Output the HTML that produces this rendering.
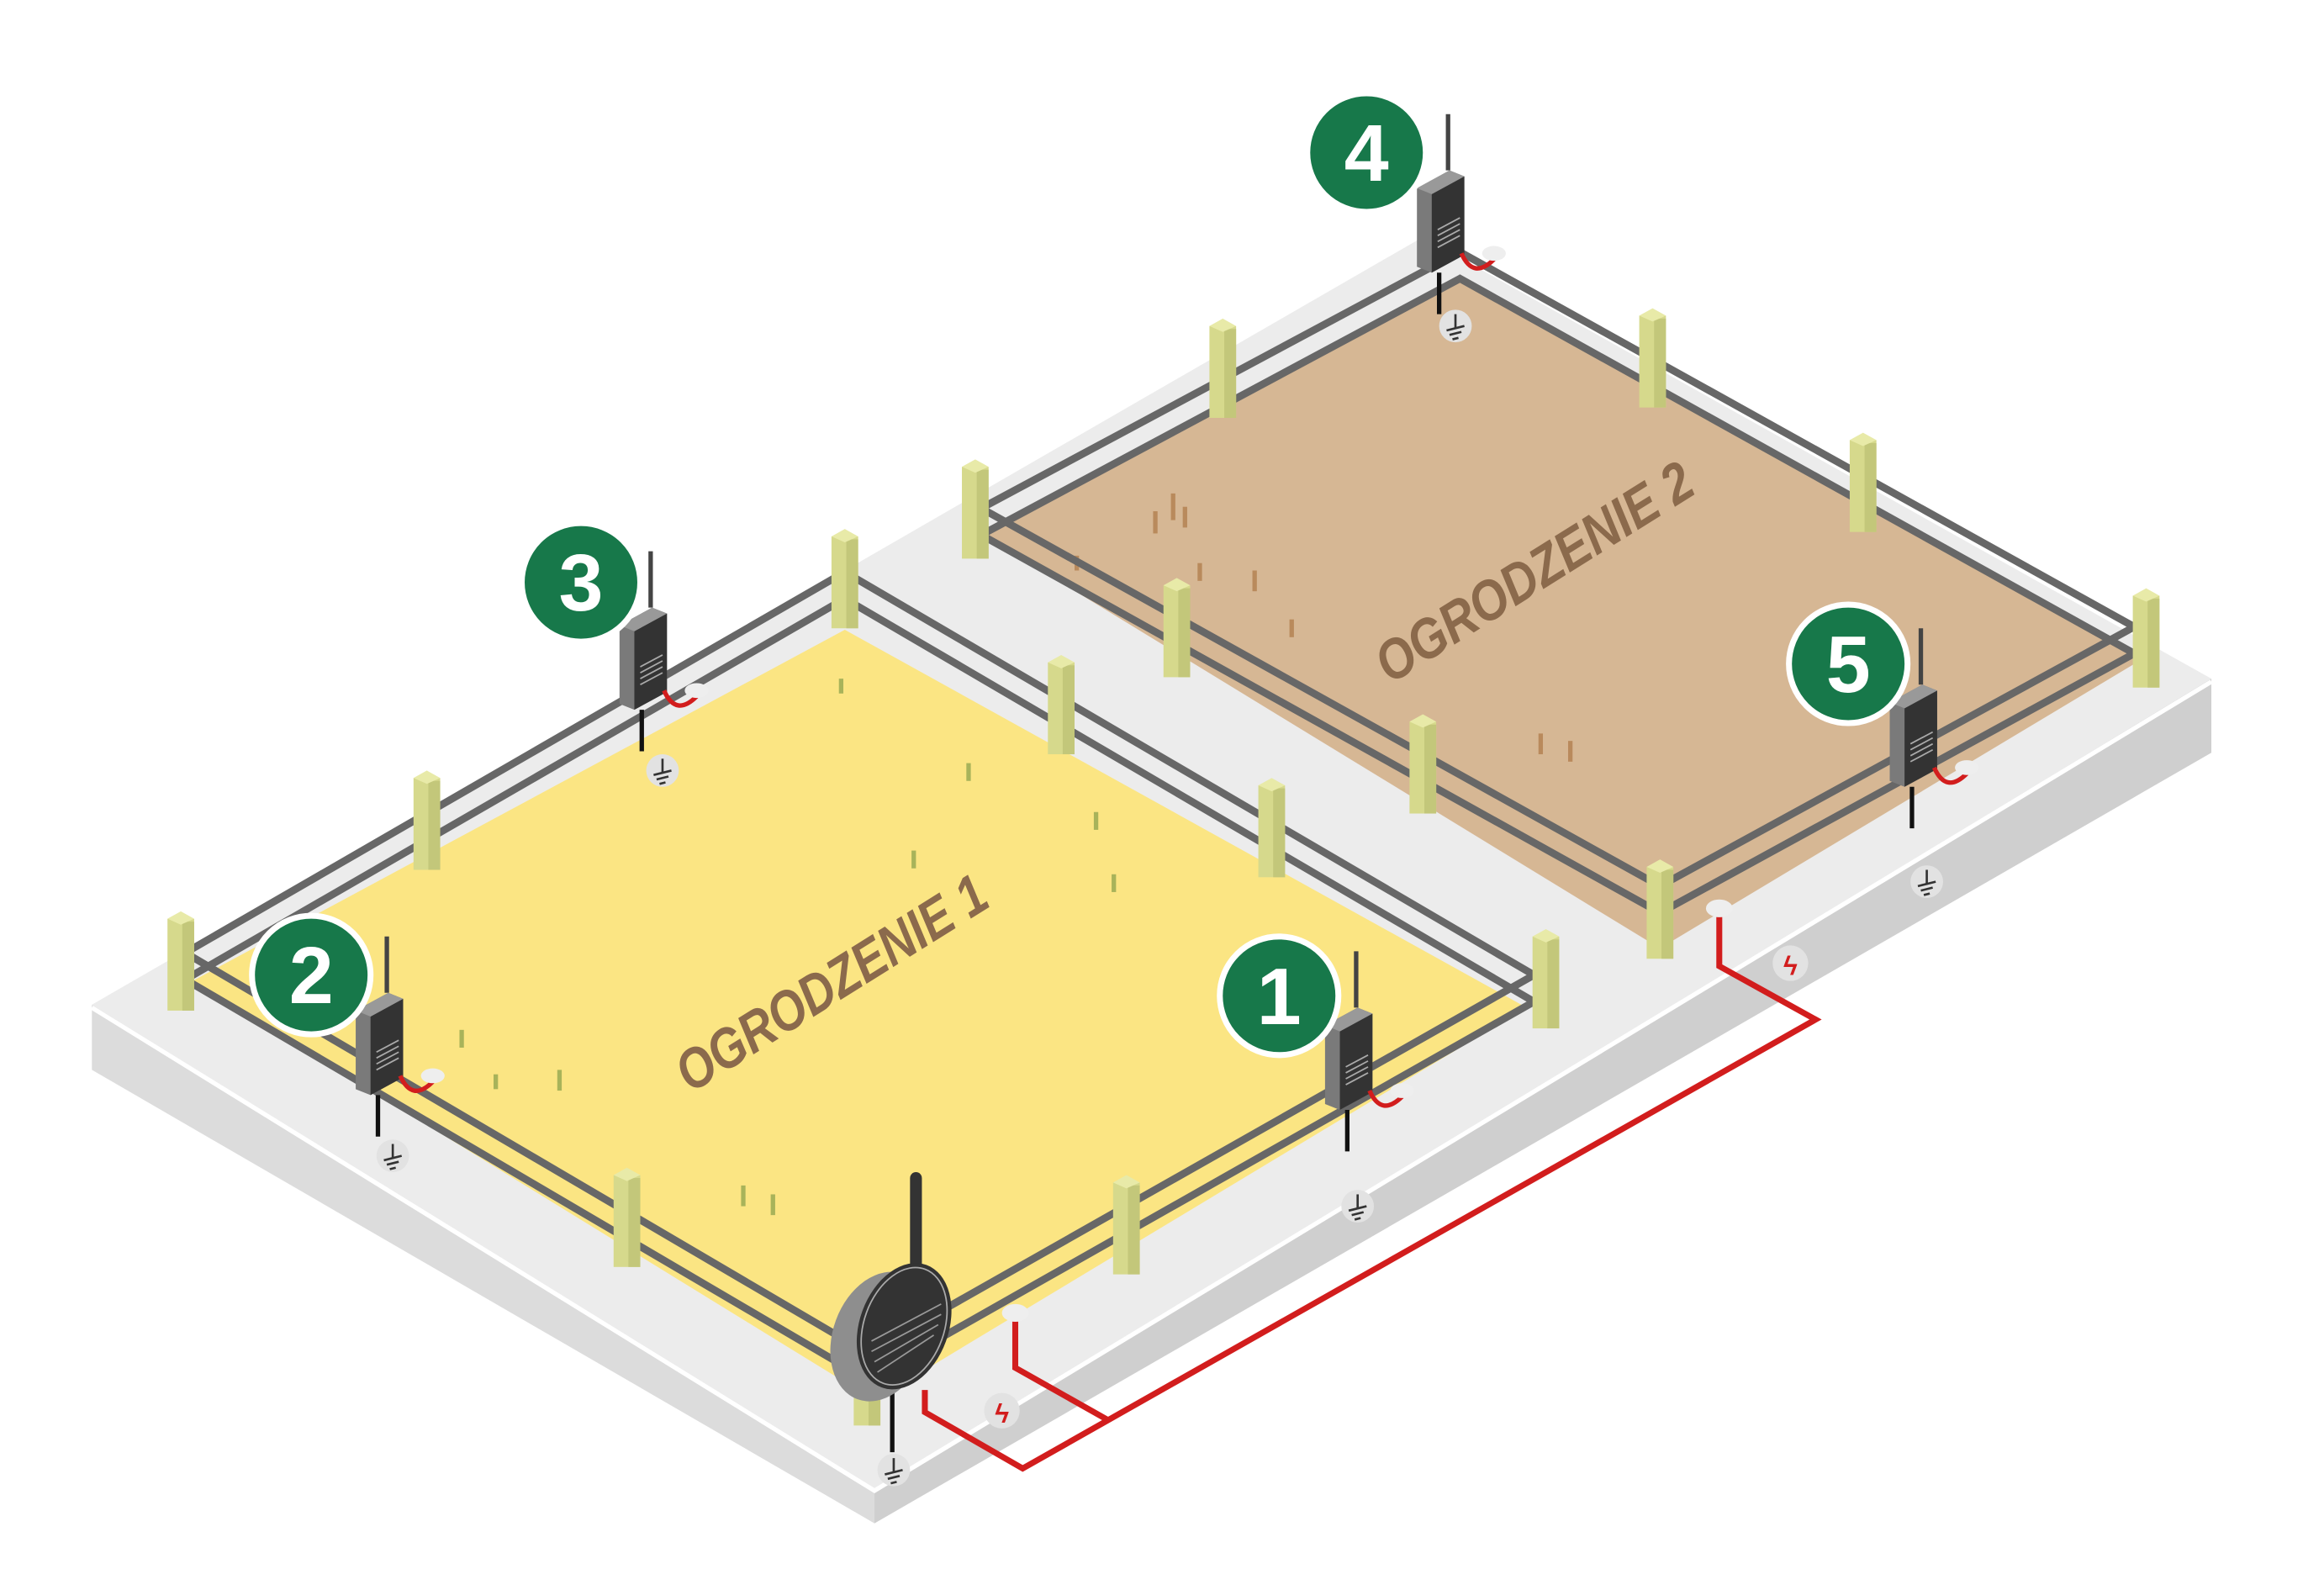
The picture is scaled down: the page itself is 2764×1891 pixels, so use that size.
<!DOCTYPE html>
<html><head><meta charset="utf-8"><style>html,body{margin:0;padding:0;background:#fff}svg{display:block}</style></head>
<body>
<svg width="2764" height="1891" viewBox="0 0 1568 1073" preserveAspectRatio="none" xmlns="http://www.w3.org/2000/svg">
<defs>
<g id="post"><rect x="-9" y="0" width="18" height="62" fill="#d6d98c"/><rect x="1" y="2" width="8" height="60" fill="#c3c77a"/><polygon points="-9,0 0,-5 9,0 0,4" fill="#e8eaa8"/></g>
<g id="dev">
<line x1="9" y1="-50" x2="9" y2="-12" stroke="#444" stroke-width="3"/>
<polygon points="-12,0 10,-12 20,-8 20,45 -2,57 -12,53" fill="#7a7a7a"/>
<polygon points="-2,4 20,-8 20,45 -2,57" fill="#333"/>
<polygon points="-12,0 10,-12 20,-8 -2,4" fill="#999"/>
<g stroke="#aaa" stroke-width="1"><line x1="2" y1="28" x2="17" y2="20"/><line x1="2" y1="32" x2="17" y2="24"/><line x1="2" y1="36" x2="17" y2="28"/><line x1="2" y1="40" x2="17" y2="32"/></g>
<line x1="3" y1="57" x2="3" y2="85" stroke="#111" stroke-width="3"/>
<path d="M18 44 Q26 62 40 48" fill="none" stroke="#d21d1d" stroke-width="3"/>
<ellipse cx="40" cy="44" rx="8" ry="5" fill="#eee"/>
</g>
<g id="gnd"><circle r="11" fill="#e2e2e2"/><g stroke="#333" stroke-width="1.5"><line x1="0" y1="-8" x2="0" y2="2"/><line x1="-6" y1="3" x2="6" y2="0"/><line x1="-4" y1="6" x2="4" y2="4"/><line x1="-2" y1="9" x2="2" y2="8"/></g></g>
</defs>
<polygon points="62,678 590,1005 590,1028 62,722" fill="#dcdcdc"/>
<polygon points="590,1005 1492,458 1492,508 590,1028" fill="#cfcfcf"/>
<polygon points="62,678 960,160 1492,458 590,1005" fill="#ececec"/>
<polyline points="62,680 590,1006 1492,460" fill="none" stroke="#fff" stroke-width="3"/>
<polygon points="130,662 570,425 1030,680 590,945" fill="#fbe583"/>
<polygon points="665,362 985,190 1445,445 1120,640" fill="#d6b794"/>
<g fill="#a8b35a"><rect x="652" y="515" width="3" height="12"/><rect x="738" y="548" width="3" height="12"/><rect x="615" y="574" width="3" height="12"/><rect x="750" y="590" width="3" height="12"/><rect x="566" y="458" width="3" height="10"/><rect x="310" y="695" width="3" height="12"/><rect x="333" y="725" width="3" height="10"/><rect x="376" y="722" width="3" height="14"/><rect x="500" y="800" width="3" height="14"/><rect x="520" y="806" width="3" height="14"/></g>
<g fill="#b98a5c"><rect x="778" y="345" width="3" height="15"/><rect x="790" y="333" width="3" height="18"/><rect x="798" y="342" width="3" height="14"/><rect x="845" y="385" width="3" height="14"/><rect x="808" y="380" width="3" height="12"/><rect x="870" y="418" width="3" height="12"/><rect x="1038" y="495" width="3" height="14"/><rect x="1058" y="500" width="3" height="14"/><rect x="725" y="375" width="3" height="10"/></g>
<g fill="none" stroke="#676767" stroke-width="5">
<polygon points="985,170 662,343 1120,598 1440,423"/>
<polygon points="985,188 662,361 1120,616 1440,441"/>
</g>
<g><use href="#post" x="825" y="220"/><use href="#post" x="1115" y="213"/><use href="#post" x="658" y="315"/><use href="#post" x="1257" y="297"/><use href="#post" x="1448" y="402"/><use href="#post" x="794" y="395"/><use href="#post" x="960" y="487"/><use href="#post" x="1120" y="585"/></g>
<g fill="none" stroke="#676767" stroke-width="5">
<polygon points="570,386 125,643 585,913 1035,658"/>
<polygon points="570,404 125,661 585,931 1035,676"/>
</g>
<g><use href="#post" x="570" y="362"/><use href="#post" x="288" y="525"/><use href="#post" x="122" y="620"/><use href="#post" x="716" y="447"/><use href="#post" x="858" y="530"/><use href="#post" x="1043" y="632"/><use href="#post" x="760" y="798"/><use href="#post" x="423" y="793"/><use href="#post" x="585" y="900"/></g>
<text transform="translate(466,738) rotate(-32)" font-family="'Liberation Sans',sans-serif" font-weight="bold" font-style="italic" font-size="38" fill="#8b6a4c" textLength="240" lengthAdjust="spacingAndGlyphs">OGRODZENIE 1</text>
<text transform="translate(938,462) rotate(-32)" font-family="'Liberation Sans',sans-serif" font-weight="bold" font-style="italic" font-size="38" fill="#8b6a4c" textLength="245" lengthAdjust="spacingAndGlyphs">OGRODZENIE 2</text>
<g fill="none" stroke="#d21d1d" stroke-width="4" stroke-linejoin="miter">
<polyline points="624,938 624,953 690,991 1225,688 1160,652 1160,615"/>
<polyline points="685,887 685,923 747,958"/>
</g>
<ellipse cx="685" cy="886" rx="9" ry="6" fill="#eee"/><ellipse cx="1160" cy="613" rx="9" ry="6" fill="#eee"/>
<circle cx="676" cy="952" r="12" fill="#e2e2e2"/><text x="676" y="960" font-family="'Liberation Sans',sans-serif" font-size="18" font-weight="bold" fill="#d21d1d" text-anchor="middle">ϟ</text>
<circle cx="1208" cy="650" r="12" fill="#e2e2e2"/><text x="1208" y="658" font-family="'Liberation Sans',sans-serif" font-size="18" font-weight="bold" fill="#d21d1d" text-anchor="middle">ϟ</text>
<use href="#gnd" x="916" y="814"/><use href="#gnd" x="603" y="992"/><use href="#gnd" x="1300" y="595"/><use href="#gnd" x="265" y="780"/><use href="#gnd" x="447" y="520"/><use href="#gnd" x="982" y="220"/>
<use href="#dev" x="906" y="692"/>
<use href="#dev" x="252" y="682"/>
<use href="#dev" x="430" y="422"/>
<use href="#dev" x="968" y="127"/>
<use href="#dev" x="1287" y="474"/>
<line x1="618" y1="795" x2="618" y2="865" stroke="#333" stroke-width="8" stroke-linecap="round"/>
<line x1="602" y1="940" x2="602" y2="980" stroke="#111" stroke-width="3"/>
<ellipse cx="594" cy="902" rx="32" ry="45" transform="rotate(20 594 902)" fill="#8e8e8e"/>
<ellipse cx="610" cy="895" rx="30" ry="44" transform="rotate(20 610 895)" fill="#333"/>
<ellipse cx="610" cy="895" rx="27" ry="41" transform="rotate(20 610 895)" fill="none" stroke="#aaa" stroke-width="1"/>
<g stroke="#999" stroke-width="1"><line x1="588" y1="905" x2="635" y2="880"/><line x1="588" y1="912" x2="635" y2="887"/><line x1="590" y1="919" x2="633" y2="894"/><line x1="592" y1="926" x2="630" y2="901"/></g>
<g font-family="'Liberation Sans',sans-serif" font-weight="bold" font-size="54" fill="#fff" text-anchor="middle">
<circle cx="863" cy="672" r="40" fill="#17784a" stroke="#fff" stroke-width="4"/><text x="863" y="691">1</text>
<circle cx="210" cy="658" r="40" fill="#17784a" stroke="#fff" stroke-width="4"/><text x="210" y="677">2</text>
<circle cx="392" cy="393" r="40" fill="#17784a" stroke="#fff" stroke-width="4"/><text x="392" y="412">3</text>
<circle cx="922" cy="103" r="40" fill="#17784a" stroke="#fff" stroke-width="4"/><text x="922" y="122">4</text>
<circle cx="1247" cy="448" r="40" fill="#17784a" stroke="#fff" stroke-width="4"/><text x="1247" y="467">5</text>
</g>
</svg>
</body></html>
